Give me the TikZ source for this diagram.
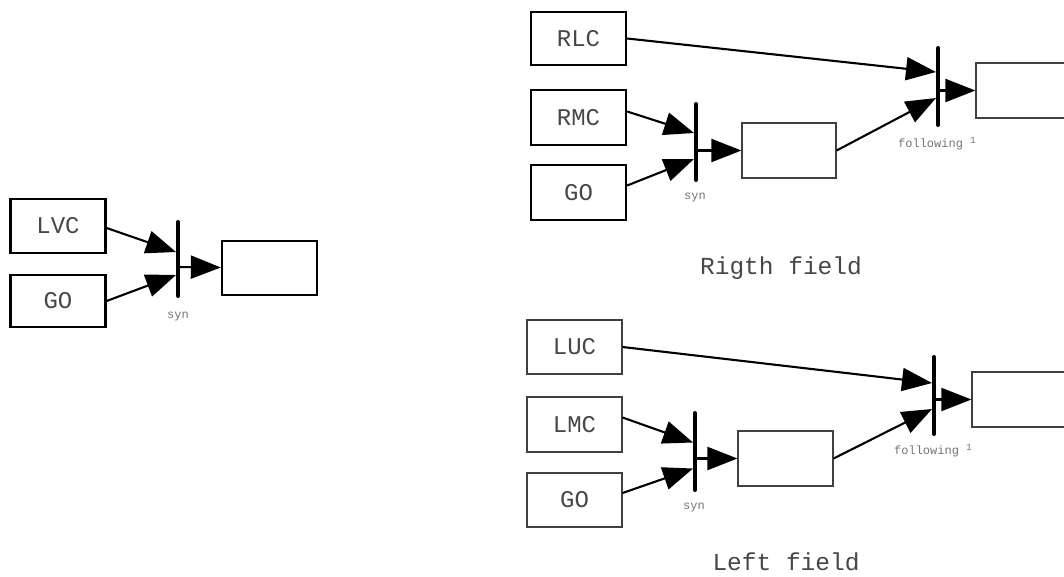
\documentclass[tikz,border=0pt]{standalone}
\usepackage{fontspec}
\setmonofont{Liberation Mono}
\usetikzlibrary{arrows.meta}
\newcommand{\supone}{\raisebox{4pt}{\fontsize{9.5}{9.5}\selectfont 1}}
\begin{document}
\begin{tikzpicture}[x=1pt,y=-1pt,
  boxbase/.style={minimum width=95pt, minimum height=54pt, inner sep=0pt,
    font=\ttfamily\fontsize{24}{24}\selectfont, text=black!72},
  thickbox/.style={boxbase, draw=black, line width=2.3pt},
  thinbox/.style={boxbase, draw=black!75, line width=1.2pt},
  barline/.style={line width=4pt, line cap=round},
  conn/.style={line width=2.1pt, -{Triangle[length=30pt,width=23pt]}},
  small/.style={font=\ttfamily\fontsize{12}{12}\selectfont, text=black!55, inner sep=0pt},
  field/.style={font=\ttfamily\fontsize{24.5}{25}\selectfont, text=black!72, inner sep=0pt}]
\path[use as bounding box] (0,0) rectangle (1064,576);
\clip (0,0) rectangle (1064,576);

% ---------------- left group ----------------
\node[thickbox] (LVC) at (58,226) {LVC};
\node[thickbox, minimum height=52pt] (GOl) at (58,301) {GO};
\coordinate (synLtop) at (178,222);
\coordinate (synLbot) at (178,296);
\draw[barline] (synLtop) -- (synLbot);
\node[thickbox] (outL) at (269.5,268) {};
\coordinate (tL1) at (176,252);
\coordinate (tL2) at (176,275);
\coordinate (oL) at (178,267);
\draw[conn] ([yshift=-2pt]LVC.east) -- (tL1);
\draw[conn] (GOl.east) -- (tL2);
\draw[conn] (oL) -- (outL);
\node[small] (synLlab) at (178,317) {syn};

% ---------------- right field (top) ----------------
\node[thickbox, minimum height=53pt] (RLC) at (578.5,38.5) {RLC};
\node[thickbox, minimum height=55pt] (RMC) at (578.5,117.5) {RMC};
\node[thickbox, minimum height=55pt] (GOr) at (578.5,192.5) {GO};
\coordinate (synRtop) at (696,104);
\coordinate (synRbot) at (696,180);
\draw[barline] (synRtop) -- (synRbot);
\node[thinbox, minimum width=94pt, minimum height=55pt] (midR) at (789,150.5) {};
\coordinate (folRtop) at (938,48);
\coordinate (folRbot) at (938,125);
\draw[barline] (folRtop) -- (folRbot);
\node[thinbox, minimum height=55pt] (outR) at (1023.5,90.5) {};
\coordinate (tR1) at (694,133);
\coordinate (tR2) at (694,159);
\coordinate (tF1) at (936,72);
\coordinate (tF2) at (936,98);
\coordinate (oR1) at (696,150.5);
\coordinate (oR2) at (938,90.5);
\draw[conn] (RLC.east) -- (tF1);
\draw[conn] ([yshift=6pt]RMC.east) -- (tR1);
\draw[conn] ([yshift=7pt]GOr.east) -- (tR2);
\draw[conn] (oR1) -- (midR);
\draw[conn] (midR.east) -- (tF2);
\draw[conn] (oR2) -- (outR);
\node[small] (synRlab) at (695,198) {syn};
\node[small] (folRlab) at (937,144) {following \supone};
\node[field] (rfield) at (781,268) {Rigth field};

% ---------------- left field (bottom) ----------------
\node[thinbox] (LUC) at (574.5,347) {LUC};
\node[thinbox, minimum height=55pt] (LMC) at (574.5,424.5) {LMC};
\node[thinbox] (GOb) at (574.5,500) {GO};
\coordinate (synBtop) at (695,413);
\coordinate (synBbot) at (695,490);
\draw[barline] (synBtop) -- (synBbot);
\node[thinbox, minimum height=55pt] (midB) at (785.5,458.5) {};
\coordinate (folBtop) at (934,357);
\coordinate (folBbot) at (934,434);
\draw[barline] (folBtop) -- (folBbot);
\node[thinbox, minimum height=55pt] (outB) at (1019.5,399.5) {};
\coordinate (tB1) at (693,442.5);
\coordinate (tB2) at (693,468.5);
\coordinate (tG1) at (932,383);
\coordinate (tG2) at (932,409);
\coordinate (oB1) at (695,458.5);
\coordinate (oB2) at (934,399.5);
\draw[conn] (LUC.east) -- (tG1);
\draw[conn] ([yshift=7pt]LMC.east) -- (tB1);
\draw[conn] ([yshift=7pt]GOb.east) -- (tB2);
\draw[conn] (oB1) -- (midB);
\draw[conn] (midB.east) -- (tG2);
\draw[conn] (oB2) -- (outB);
\node[small] (synBlab) at (694,508) {syn};
\node[small] (folBlab) at (933,451) {following \supone};
\node[field] (lfield) at (786,562) {Left field};
\end{tikzpicture}
\end{document}
